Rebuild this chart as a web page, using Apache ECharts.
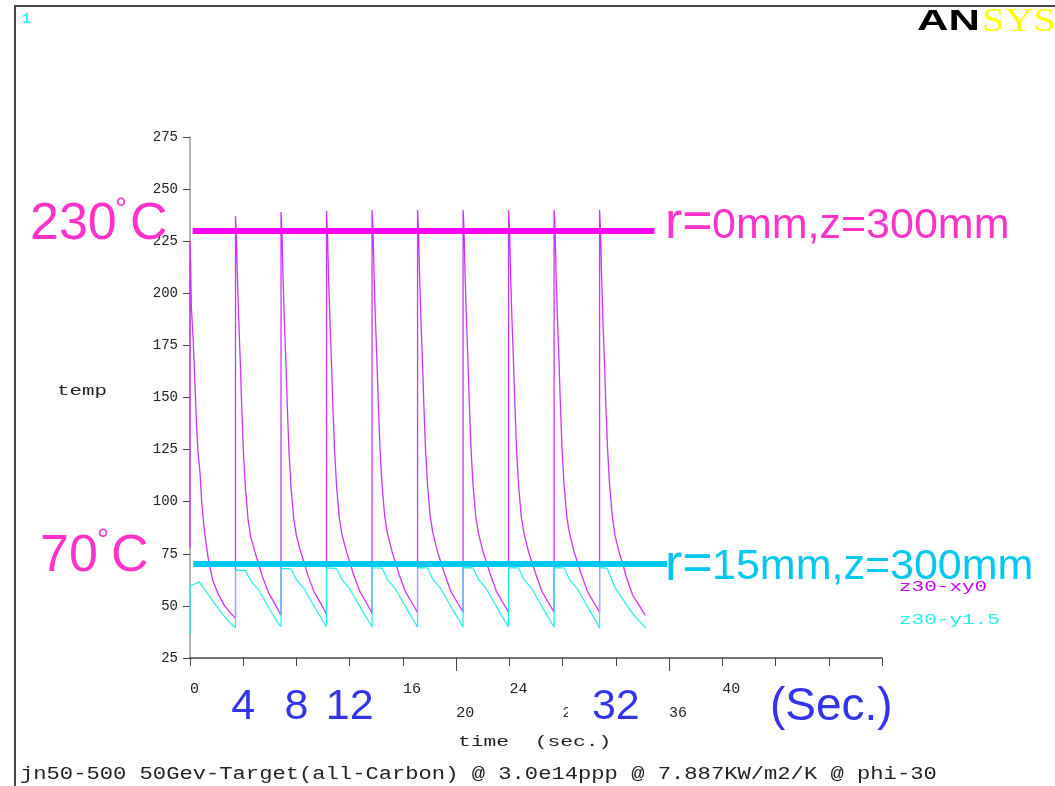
<!DOCTYPE html>
<html>
<head>
<meta charset="utf-8">
<script src="https://cdn.jsdelivr.net/npm/echarts@6/dist/echarts.min.js"></script>
<style>
  html, body { margin: 0; padding: 0; background: #fff; }
  #chart { width: 1055px; height: 786px; }
</style>
</head>
<body>
<div id="chart"></div>
<script>
// Centre temperature (z30-xy0, r=0mm) over the pulse train, time in s, temp in degC
const hotTime = [
  0, 0, 0.05, 0.1, 0.25, 0.38, 0.5, 0.6, 0.75, 0.9, 1.1, 1.35, 1.7, 2.1, 2.6, 3.0,
  3.42, 3.42, 3.49, 3.57, 3.67, 3.79, 3.89, 4.02, 4.17, 4.37, 4.57, 4.92, 5.17, 5.42, 5.92, 6.42,
  6.84, 6.84, 6.91, 6.99, 7.09, 7.21, 7.31, 7.44, 7.59, 7.79, 7.99, 8.34, 8.59, 8.84, 9.34, 9.84,
  10.26, 10.26, 10.33, 10.41, 10.51, 10.63, 10.73, 10.86, 11.01, 11.21, 11.41, 11.76, 12.01, 12.26, 12.76, 13.26,
  13.68, 13.68, 13.75, 13.83, 13.93, 14.05, 14.15, 14.28, 14.43, 14.63, 14.83, 15.18, 15.43, 15.68, 16.18, 16.68,
  17.10, 17.10, 17.17, 17.25, 17.35, 17.47, 17.57, 17.70, 17.85, 18.05, 18.25, 18.60, 18.85, 19.10, 19.60, 20.10,
  20.52, 20.52, 20.59, 20.67, 20.77, 20.89, 20.99, 21.12, 21.27, 21.47, 21.67, 22.02, 22.27, 22.52, 23.02, 23.52,
  23.94, 23.94, 24.01, 24.09, 24.19, 24.31, 24.41, 24.54, 24.69, 24.89, 25.09, 25.44, 25.69, 25.94, 26.44, 26.94,
  27.36, 27.36, 27.43, 27.51, 27.61, 27.73, 27.83, 27.96, 28.11, 28.31, 28.51, 28.86, 29.11, 29.36, 29.86, 30.36,
  30.78, 30.78, 30.85, 30.93, 31.03, 31.15, 31.25, 31.38, 31.53, 31.73, 31.93, 32.28, 32.53, 32.78, 33.28, 33.78, 34.20
];
const hotTemp = [
  78, 225, 214, 194, 176, 155, 136, 124, 114, 98, 85, 73.5, 62.5, 56, 50, 47,
  44, 237, 226, 206, 186, 165, 145, 123, 106, 91, 83, 75, 70, 64.5, 56, 50.5,
  45.5, 239, 229, 208, 187, 166, 146, 124, 107, 92, 84, 75.5, 70.5, 65, 56.5, 51,
  46, 239.5, 229, 208, 188, 167, 147, 125, 108, 92.5, 84.5, 76, 71, 65.5, 57, 51.5,
  46.5, 240, 231, 209, 188, 167, 147, 125, 108, 93, 85, 76, 71, 65.5, 57, 51.5,
  46.8, 240, 231, 209, 188, 167, 147, 125, 108, 93, 85, 76, 71, 66, 57, 51.5,
  47, 240, 231, 209, 188, 167, 147, 125, 108, 93, 85, 76, 71, 66, 57, 51.5,
  47, 240, 231, 209, 188, 167, 147, 125, 108, 93, 85, 76, 71, 66, 57, 51.5,
  47, 240, 231, 209, 188, 167, 147, 125, 108, 93, 85, 76, 71, 66, 57, 51.5,
  47, 240, 230, 208, 187, 166, 146, 125, 108, 93, 84, 75, 70, 64, 55, 50, 45.5
];

// Edge temperature (z30-y1.5, r=15mm)
const edgeTime = [
  0, 0, 0.7, 1.2, 1.75, 2.5, 3.0,
  3.42, 3.42, 4.17, 4.55, 5.17, 5.67, 6.17, 6.55,
  6.84, 6.84, 7.59, 7.97, 8.59, 9.09, 9.59, 9.97,
  10.26, 10.26, 11.01, 11.39, 12.01, 12.51, 13.01, 13.39,
  13.68, 13.68, 14.43, 14.81, 15.43, 15.93, 16.43, 16.81,
  17.10, 17.10, 17.85, 18.23, 18.85, 19.35, 19.85, 20.23,
  20.52, 20.52, 21.27, 21.65, 22.27, 22.77, 23.27, 23.65,
  23.94, 23.94, 24.69, 25.07, 25.69, 26.19, 26.69, 27.07,
  27.36, 27.36, 28.11, 28.49, 29.11, 29.61, 30.11, 30.49,
  30.78, 30.78, 31.35, 31.96, 32.5, 32.96, 33.5, 34.25
];
const edgeTemp = [
  36.5, 59.5, 61.5, 57, 52, 45.6, 42,
  39.4, 67.2, 67, 62.2, 57.4, 52, 46.5, 42.5,
  40, 68, 67.8, 62.8, 58, 52.5, 47, 43,
  40, 68.2, 68, 63, 58, 52.5, 47, 43,
  39.8, 68.3, 68.1, 63, 58.2, 52.6, 47, 43,
  39.8, 68.4, 68.2, 63, 58.2, 52.6, 47, 43,
  39.8, 68.4, 68.2, 63, 58.2, 52.6, 47, 43,
  39.8, 68.4, 68.2, 63, 58.2, 52.6, 47, 43,
  39.8, 68.4, 68.2, 63, 58.2, 52.6, 47, 43,
  39.2, 68.4, 68, 58.6, 53.5, 49, 44.5, 39.4
];

const seriesNames = ['z30-xy0', 'z30-y1.5'];

// Highlighted temperature levels and their time spans
const bandLevels = [230, 70];
const bandStart = [0.2, 0.25];
const bandEnd = [34.9, 35.85];
const bandCaptions = ['r=', 'r='];
const bandDetails = ['0mm,z=300mm', '15mm,z=300mm'];

// Time axis: printed tick labels, enlarged ones, and the longer tick marks
const plainTicks = [0, 16, 20, 24, 28, 36, 40];
const bigTicks = [4, 8, 12, 32];
const longTicks = [20, 36];
const unitText = '(Sec.)';

const footer = 'jn50-500 50Gev-Target(all-Carbon) @ 3.0e14ppp @ 7.887KW/m2/K @ phi-30';

const MONO = '"Liberation Mono", "DejaVu Sans Mono", monospace';
const SANS = '"Liberation Sans", Arial, sans-serif';
const PINK = '#ff33cc';
const CYAN = '#00c8f0';
const BLUE = '#3333ee';

const zip = (xs, ys) => xs.map((x, i) => [x, ys[i]]);

const chart = echarts.init(document.getElementById('chart'), null, { renderer: 'canvas' });

chart.setOption({
  animation: false,
  backgroundColor: '#fff',
  grid: { left: 190, right: 173, top: 137, bottom: 128 },
  xAxis: {
    type: 'value', min: 0, max: 52, interval: 4,
    splitLine: { show: false },
    axisLine: { lineStyle: { color: '#444', width: 1.5 } },
    axisTick: { length: 8, lineStyle: { color: '#444' } },
    axisLabel: {
      margin: 19, align: 'left', lineHeight: 24,
      fontFamily: MONO, fontSize: 15, color: '#222',
      formatter: v => plainTicks.includes(v) ? (v % 8 === 4 ? '\n' + v : String(v)) : ''
    }
  },
  yAxis: {
    type: 'value', min: 25, max: 275, interval: 25,
    splitLine: { show: false },
    axisLine: { lineStyle: { color: '#999', width: 1.5 } },
    axisTick: { length: 7, lineStyle: { color: '#444' } },
    axisLabel: { margin: 12, fontFamily: MONO, fontSize: 14, color: '#222' }
  },
  series: [
    {
      name: seriesNames[0], type: 'line', data: zip(hotTime, hotTemp),
      showSymbol: false, symbol: 'none',
      lineStyle: { color: '#cc33ff', width: 1.3 },
      markLine: {
        silent: true, symbol: 'none', label: { show: false },
        lineStyle: { color: '#ff00ff', width: 6, type: 'solid' },
        data: [[{ coord: [bandStart[0], bandLevels[0]] }, { coord: [bandEnd[0], bandLevels[0]] }]]
      }
    },
    {
      name: seriesNames[1], type: 'line', data: zip(edgeTime, edgeTemp),
      showSymbol: false, symbol: 'none',
      lineStyle: { color: '#22eeee', width: 1.2 },
      markLine: {
        silent: true, symbol: 'none', label: { show: false },
        lineStyle: { color: CYAN, width: 6, type: 'solid' },
        data: [[{ coord: [bandStart[1], bandLevels[1]] }, { coord: [bandEnd[1], bandLevels[1]] }]]
      }
    }
  ]
});

const xPix = v => chart.convertToPixel({ xAxisIndex: 0 }, v);
const yPix = v => chart.convertToPixel({ yAxisIndex: 0 }, v);

const txt = (text, x, y, font, color, extra) => Object.assign({
  type: 'text', x, y, z: 50,
  style: Object.assign({ text, font, fill: color, align: 'left', verticalAlign: 'middle' }, extra && extra.style)
}, extra && extra.props);

const axisY = yPix(25);

const elements = [
  // page frame and window number
  { type: 'rect', z: 40, shape: { x: 15, y: 6, width: 1200, height: 900 },
    style: { fill: 'none', stroke: '#444', lineWidth: 2 } },
  txt('1', 22, 19, 'bold 15px ' + MONO, '#22ffff'),
  // product logo
  txt('AN', 917, 22, 'bold 30px ' + SANS, '#000', { props: { scaleX: 1.45 } }),
  txt('SYS', 982, 22, '33px "Liberation Serif", serif', '#ffff00', { props: { scaleX: 1.22 } }),
  // axis titles
  txt('temp', 57, 391, '15px ' + MONO, '#222', { props: { scaleX: 1.39 } }),
  txt('time  (sec.)', 458, 742, '15px ' + MONO, '#222', { props: { scaleX: 1.42 } }),
  // legend
  txt(seriesNames[0], 899, 587, '14px ' + MONO, '#cc00ff', { props: { scaleX: 1.5 } }),
  txt(seriesNames[1], 899, 620, '14px ' + MONO, '#22eeee', { props: { scaleX: 1.5 } }),
  // footer
  txt(footer, 20, 774, '18px ' + MONO, '#222', { props: { scaleX: 1.23 } }),
  // level captions on the left
  txt(String(bandLevels[0]), 30, 225, '52px ' + SANS, PINK),
  txt('°', 115, 210, '30px ' + SANS, PINK),
  txt('C', 130, 225, '52px ' + SANS, PINK),
  txt(String(bandLevels[1]), 40, 557, '52px ' + SANS, PINK),
  txt('°', 97, 541, '30px ' + SANS, PINK),
  txt('C', 111, 557, '52px ' + SANS, PINK),
  // level captions on the right
  txt(bandCaptions[0], 665, 224, '52px ' + SANS, PINK),
  txt(bandDetails[0], 712, 226, '43px ' + SANS, PINK),
  txt(bandCaptions[1], 665, 566, '52px ' + SANS, CYAN),
  txt(bandDetails[1], 712, 567, '43px ' + SANS, CYAN),
  // unit
  txt(unitText, 770, 707, '46px ' + SANS, BLUE),
  // white patch behind the enlarged 32
  { type: 'rect', z: 45, shape: { x: xPix(32) - 48, y: 698, width: 26, height: 28 }, style: { fill: '#fff' } }
];

longTicks.forEach(v => {
  const x = Math.round(xPix(v)) + 0.5;
  elements.push({ type: 'line', z: 30, shape: { x1: x, y1: axisY, x2: x, y2: axisY + 13 },
    style: { stroke: '#444', lineWidth: 1 } });
});

bigTicks.forEach(v => {
  elements.push(txt(String(v), xPix(v), 707, '43px ' + SANS, BLUE, { style: { align: 'center' } }));
});

chart.setOption({ graphic: { elements } });
</script>
</body>
</html>
